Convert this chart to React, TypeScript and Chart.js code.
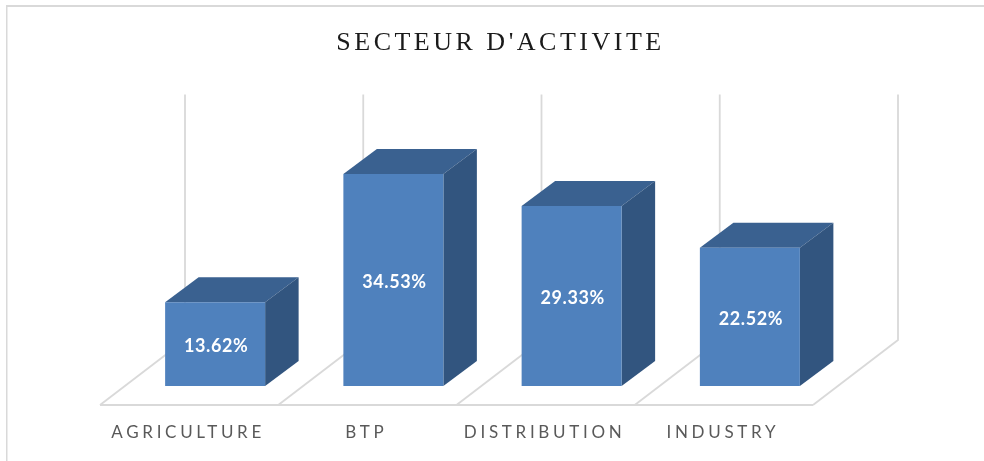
import React, { useEffect, useRef } from "react";
import { Chart, registerables } from "chart.js";

Chart.register(...registerables);

const categories = ["AGRICULTURE", "BTP", "DISTRIBUTION", "INDUSTRY"];
const shares = [13.62, 34.53, 29.33, 22.52];
const chartTitle = "SECTEUR D'ACTIVITE";

const FRONT = "#4f81bd";
const TOP = "#3a6190";
const SIDE = "#32557f";
const GRID = "#d9d9d9";
const BAR_DX = 33.5;
const BAR_DY = -25;
const BACK_DX = 59;
const BACK_DY = -46;
const FLOOR_DX = -26;
const FLOOR_DY = 19;

const scene3d = {
  id: "scene3d",
  beforeDraw(chart: any) {
    const ctx = chart.ctx;
    ctx.fillStyle = "#ffffff";
    ctx.fillRect(0, 0, chart.width, chart.height);
    ctx.fillStyle = GRID;
    ctx.fillRect(6, 5, chart.width - 6, 2);
    ctx.fillRect(6, 5, 1.5, chart.height - 5);
    const tb = chart.titleBlock;
    if (tb && !tb.__spaced) {
      const orig = tb.draw.bind(tb);
      tb.draw = (...args: any[]) => {
        ctx.save();
        ctx.translate(18, 0);
        ctx.letterSpacing = "3.5px";
        orig(...args);
        ctx.restore();
      };
      tb.__spaced = true;
    }
    ctx.letterSpacing = "3.7px";
  },
  beforeDatasetsDraw(chart: any) {
    const ctx = chart.ctx;
    const { x, y } = chart.scales;
    const base = y.getPixelForValue(0);
    const top = y.getPixelForValue(y.max);
    const step = (x.right - x.left) / categories.length;
    ctx.save();
    ctx.letterSpacing = "0px";
    ctx.strokeStyle = GRID;
    ctx.lineWidth = 1.8;
    ctx.beginPath();
    ctx.moveTo(x.left + FLOOR_DX, base + FLOOR_DY);
    ctx.lineTo(x.right + FLOOR_DX, base + FLOOR_DY);
    for (let i = 0; i <= categories.length; i++) {
      const edge = x.left + i * step;
      ctx.moveTo(edge + FLOOR_DX, base + FLOOR_DY);
      ctx.lineTo(edge + BACK_DX, base + BACK_DY);
      ctx.lineTo(edge + BACK_DX, top + BACK_DY);
    }
    ctx.stroke();
    const meta = chart.getDatasetMeta(0);
    meta.data.forEach((bar: any) => {
      const l = bar.x - bar.width / 2;
      const r = bar.x + bar.width / 2;
      ctx.fillStyle = TOP;
      ctx.beginPath();
      ctx.moveTo(l, bar.y);
      ctx.lineTo(l + BAR_DX, bar.y + BAR_DY);
      ctx.lineTo(r + BAR_DX, bar.y + BAR_DY);
      ctx.lineTo(r, bar.y);
      ctx.closePath();
      ctx.fill();
      ctx.fillStyle = SIDE;
      ctx.beginPath();
      ctx.moveTo(r, bar.y);
      ctx.lineTo(r + BAR_DX, bar.y + BAR_DY);
      ctx.lineTo(r + BAR_DX, bar.base + BAR_DY);
      ctx.lineTo(r, bar.base);
      ctx.closePath();
      ctx.fill();
    });
    ctx.restore();
  },
  afterDatasetsDraw(chart: any) {
    const ctx = chart.ctx;
    const meta = chart.getDatasetMeta(0);
    ctx.save();
    ctx.letterSpacing = "0.6px";
    ctx.fillStyle = "#ffffff";
    ctx.font = "bold 18px Lato";
    ctx.textAlign = "center";
    ctx.textBaseline = "middle";
    meta.data.forEach((bar: any, i: number) => {
      ctx.fillText(shares[i].toFixed(2) + "%", bar.x + 1, (bar.y + bar.base) / 2 + 2);
    });
    ctx.restore();
  },
};

export default function App() {
  const ref = useRef<HTMLCanvasElement>(null);
  useEffect(() => {
    const chart = new Chart(ref.current as HTMLCanvasElement, {
      type: "bar",
      data: {
        labels: categories,
        datasets: [
          {
            data: shares,
            backgroundColor: FRONT,
            borderWidth: 0,
            barPercentage: 1,
            categoryPercentage: 0.561,
          },
        ],
      },
      options: {
        responsive: false,
        animation: false,
        layout: { padding: { left: 126, right: 145, top: 0, bottom: 0 } },
        plugins: {
          legend: { display: false },
          tooltip: { enabled: false },
          title: {
            display: true,
            text: chartTitle,
            color: "#1a1a1a",
            font: { family: "'Liberation Serif'", size: 26, weight: "normal" },
            padding: { top: 28, bottom: 81.2 },
          },
        },
        scales: {
          x: {
            grid: { display: false },
            border: { display: false },
            afterFit: (s: any) => {
              s.height = 75;
            },
            ticks: {
              color: "#595959",
              font: { family: "Lato", size: 17 },
              padding: 28,
              labelOffset: -27,
              maxRotation: 0,
              autoSkip: false,
            },
          },
          y: { display: false, min: 0, max: 40 },
        },
      },
      plugins: [scene3d],
    } as any);
    return () => chart.destroy();
  }, []);
  return (
    <div style={{ position: "absolute", left: 0, top: 0 }}>
      <canvas ref={ref} width={984} height={461} style={{ display: "block" }} />
    </div>
  );
}
